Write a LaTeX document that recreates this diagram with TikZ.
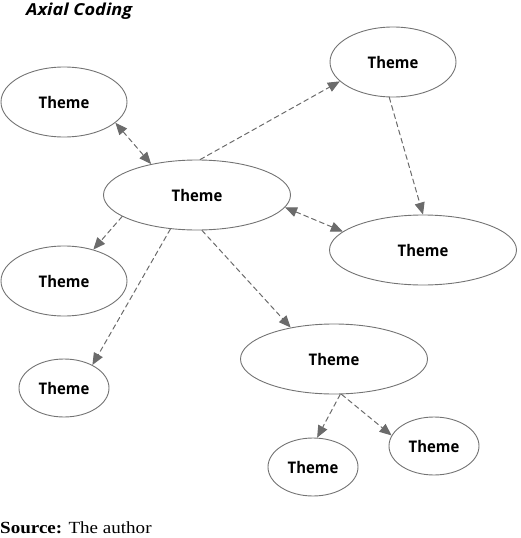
\documentclass[tikz,border=0pt]{standalone}
\usepackage{fontspec}
\setmainfont{Liberation Serif}
\newfontfamily\themefont[FakeStretch=0.93]{Open Sans}
\newfontfamily\titlefont[FakeStretch=1.1]{Open Sans}
\newfontfamily\srcfont[FakeStretch=1.12]{Liberation Serif}
\usetikzlibrary{arrows.meta}
\usetikzlibrary{shapes.geometric}
\definecolor{edgegray}{rgb}{0.42,0.42,0.42}
\definecolor{rimgray}{rgb}{0.45,0.45,0.45}

\begin{document}
\begin{tikzpicture}[line cap=round,line join=round,x=1pt,y=-1pt,
  theme/.style={ellipse,draw=rimgray,line width=0.9pt,inner sep=0pt,
    font=\themefont\bfseries\fontsize{16}{18}\selectfont},
  big/.style={theme,minimum width=187pt,minimum height=70pt},
  mid/.style={theme,minimum width=126pt,minimum height=70pt},
  small/.style={theme,minimum width=90pt,minimum height=58pt},
  link/.style={draw=edgegray,line width=1pt,dash pattern=on 5pt off 3.5pt,
    -{Triangle[length=12pt,width=10pt,fill=edgegray]}},
  link2/.style={link,{Triangle[length=12pt,width=10pt,fill=edgegray]}-{Triangle[length=12pt,width=10pt,fill=edgegray]}}]
\useasboundingbox (0,0) rectangle (520,538);
% title
\node[anchor=base west,inner sep=0pt,font=\titlefont\bfseries\itshape\fontsize{16.5}{18}\selectfont] (title) at (26,15) {Axial Coding};
% themes
\node[mid] (tl) at (64,102) {Theme};
\node[mid] (tr) at (393,62) {Theme};
\node[big] (c) at (197,195) {Theme};
\node[big] (rm) at (423,250) {Theme};
\node[mid] (lm) at (64,281) {Theme};
\node[small] (ll) at (64,388) {Theme};
\node[big] (lo) at (334,359) {Theme};
\node[small] (bl) at (313,467) {Theme};
\node[small] (br) at (434,446) {Theme};
% links
\draw[link2] (tl.-22) -- (c.146);
\draw[link] (c.85) -- (tr.200);
\draw[link] (tr.264) -- (rm.90);
\draw[link2] (c.-8) -- (rm.167);
\draw[link] (c.196) -- (lm.47);
\draw[link] (c.232) -- (ll.39);
\draw[link] (c.278) -- (lo.144);
\draw[link] (lo.280) -- (bl.82);
\draw[link] (lo.282) -- (br.166);
% source
\node[anchor=base west,font=\srcfont\fontsize{17}{19}\selectfont,inner sep=0pt] (src) at (0,533) {\textbf{Source:} The author};
\end{tikzpicture}
\end{document}
